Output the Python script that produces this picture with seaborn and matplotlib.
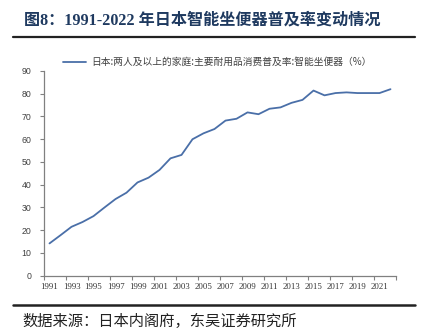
import matplotlib
matplotlib.use("Agg")
import matplotlib.pyplot as plt
import seaborn as sns
import pandas as pd
from matplotlib.ticker import FixedLocator

years = [str(y) for y in range(1991, 2023)]
values = [14.2, 17.8, 21.5, 23.6, 26.2, 30.0, 33.7, 36.5, 41.0, 43.1,
          46.5, 51.6, 53.1, 60.0, 62.6, 64.5, 68.2, 69.0, 71.8, 71.0,
          73.4, 74.0, 76.0, 77.3, 81.4, 79.3, 80.3, 80.6, 80.3, 80.3,
          80.3, 82.0]
tick_labels = [str(y) for y in range(1991, 2023, 2)]
series_name = "日本:两人及以上的家庭:主要耐用品消费普及率:智能坐便器（%）"
title_text = "图8：1991-2022 年日本智能坐便器普及率变动情况"
source_text = "数据来源：日本内阁府，东吴证券研究所"

sns.set_theme(style="white")
plt.rcParams['font.family'] = ['Liberation Sans', 'Noto Sans CJK SC', 'DejaVu Sans']

df = pd.DataFrame({"year": years, "value": values})

fig = plt.figure(figsize=(4.21, 3.34), dpi=100)
ax = fig.add_axes([44/421, 58.3/334, 352/421, 204.7/334])

line_color = "#4A6FA8"
sns.lineplot(data=df, x="year", y="value", ax=ax, color=line_color,
             linewidth=1.3, label=series_name, sort=False)

ax.set_xlim(-0.5, len(years) - 0.5)
ax.set_ylim(0, 90)
ax.set_yticks(range(0, 91, 10))
ax.set_xlabel("")
ax.set_ylabel("")

positions = list(range(0, len(years), 2))
ax.set_xticks(positions)
ax.set_xticklabels(tick_labels, family=['Liberation Serif'], fontsize=6.3, color="#333333")
ax.xaxis.set_minor_locator(FixedLocator([p - 0.5 for p in range(0, len(years) + 1, 2)]))
ax.tick_params(axis='x', which='major', length=0, pad=5)
ax.tick_params(axis='x', which='minor', length=3, width=0.8, color="#808080", bottom=True)
ax.tick_params(axis='y', which='major', length=3, width=0.8, color="#808080", left=True,
               labelsize=6.3, labelcolor="#404040", pad=6)

for s in ['top', 'right']:
    ax.spines[s].set_visible(False)
for s in ['left', 'bottom']:
    ax.spines[s].set_color("#808080")
    ax.spines[s].set_linewidth(0.9)

leg = ax.legend(loc='center left', bbox_to_anchor=(63/421, 1 - 62/334),
                bbox_transform=fig.transFigure, frameon=False,
                prop={'family': ['Noto Sans CJK SC'], 'size': 7.0},
                handlelength=2.4, handletextpad=0.5, borderaxespad=0, borderpad=0)
for t in leg.get_texts():
    t.set_color("#404040")

fig.text(24/421, 1 - 20/334, title_text, fontsize=11.6, fontweight='bold',
         color="#1F3A60", va='center', ha='left',
         family=['Liberation Serif', 'Noto Sans CJK SC'])
fig.add_artist(plt.Line2D([13/421, 415/421], [1 - 36.5/334, 1 - 36.5/334],
                          transform=fig.transFigure, color="#222222", linewidth=1.6))
fig.add_artist(plt.Line2D([13/421, 415/421], [1 - 305/334, 1 - 305/334],
                          transform=fig.transFigure, color="#222222", linewidth=1.8))
fig.text(22/421, 1 - 321/334, source_text, fontsize=11, color="#222222",
         va='center', ha='left', family=['Noto Sans CJK SC'])

fig.savefig("out.png", dpi=100)
